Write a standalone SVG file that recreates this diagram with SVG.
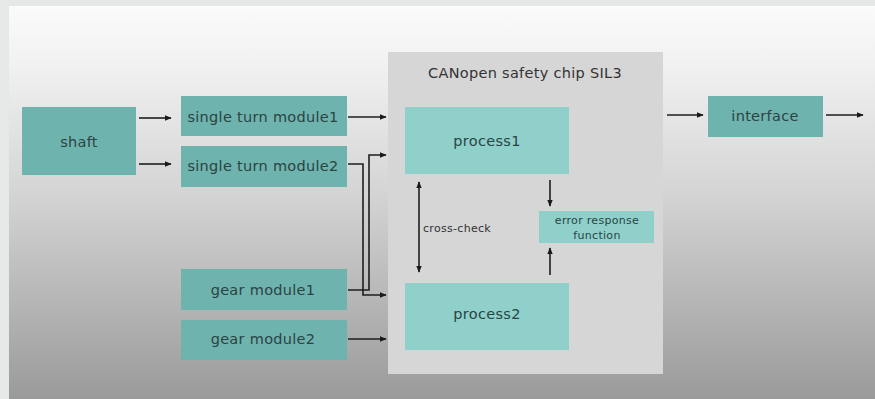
<svg xmlns="http://www.w3.org/2000/svg" width="875" height="399" viewBox="0 0 875 399">
<defs>
<linearGradient id="bg" x1="0" y1="0" x2="0" y2="1">
<stop offset="0" stop-color="#fbfbfb"/>
<stop offset="0.15" stop-color="#f1f1f1"/>
<stop offset="0.5" stop-color="#d2d2d2"/>
<stop offset="1" stop-color="#9a9a9a"/>
</linearGradient>
<marker id="ah" viewBox="0 0 10 10" refX="9" refY="5" markerWidth="7" markerHeight="7" markerUnits="userSpaceOnUse" orient="auto-start-reverse">
<path d="M0,1 L10,5 L0,9 z" fill="#1a1a1a"/>
</marker>
<style>
.dark{fill:#6fb3ae}
.light{fill:#8fd0cb}
.t{font-family:"DejaVu Sans","Open Sans",sans-serif;font-size:14.5px;letter-spacing:0.3px;fill:#2a4443;text-anchor:middle}
.s{font-family:"DejaVu Sans","Open Sans",sans-serif;font-size:11px;letter-spacing:0.3px;fill:#2a4443;text-anchor:middle}
.c{fill:none;stroke:#1e1e1e;stroke-width:1.6}
</style>
</defs>
<rect width="875" height="399" fill="#e6e8e8"/>
<rect x="9" y="6" width="866" height="393" fill="url(#bg)"/>
<g id="chip">
<rect x="388" y="52" width="275" height="322" fill="#d6d6d6"/>
<text x="525" y="78" class="t" style="fill:#333">CANopen safety chip SIL3</text>
</g>
<g id="shaft"><rect x="22" y="107" width="114" height="68" class="dark"/><text x="79" y="147" class="t">shaft</text></g>
<g id="stm1"><rect x="181" y="96" width="166" height="40" class="dark"/><text x="263" y="122" class="t">single turn module1</text></g>
<g id="stm2"><rect x="181" y="146" width="166" height="41" class="dark"/><text x="263" y="171" class="t">single turn module2</text></g>
<g id="gm1"><rect x="181" y="269" width="166" height="41" class="dark"/><text x="263" y="295" class="t">gear module1</text></g>
<g id="gm2"><rect x="181" y="320" width="166" height="40" class="dark"/><text x="263" y="344" class="t">gear module2</text></g>
<g id="p1"><rect x="405" y="107" width="164" height="67" class="light"/><text x="487" y="146" class="t">process1</text></g>
<g id="p2"><rect x="405" y="283" width="164" height="67" class="light"/><text x="487" y="319" class="t">process2</text></g>
<g id="erf"><rect x="539" y="211" width="115" height="32" class="light"/><text x="597" y="224" class="s">error response</text><text x="597" y="239" class="s">function</text></g>
<g id="iface"><rect x="708" y="96" width="115" height="41" class="dark"/><text x="765" y="121" class="t">interface</text></g>
<text x="423" y="232" class="s" style="text-anchor:start;fill:#333">cross-check</text>
<g id="connectors">
<line x1="139" y1="118" x2="171" y2="118" class="c" marker-end="url(#ah)"/>
<line x1="139" y1="164" x2="171" y2="164" class="c" marker-end="url(#ah)"/>
<line x1="348" y1="117" x2="386" y2="117" class="c" marker-end="url(#ah)"/>
<polyline points="348,164 363,164 363,295 386,295" class="c" marker-end="url(#ah)"/>
<polyline points="348,290 369,290 369,155 386,155" class="c" marker-end="url(#ah)"/>
<line x1="348" y1="339" x2="386" y2="339" class="c" marker-end="url(#ah)"/>
<line x1="419" y1="182" x2="419" y2="272" class="c" marker-start="url(#ah)" marker-end="url(#ah)"/>
<line x1="550" y1="180" x2="550" y2="206" class="c" marker-end="url(#ah)"/>
<line x1="550" y1="275" x2="550" y2="248" class="c" marker-end="url(#ah)"/>
<line x1="667" y1="115" x2="703" y2="115" class="c" marker-end="url(#ah)"/>
<line x1="826" y1="115" x2="863" y2="115" class="c" marker-end="url(#ah)"/>
</g>
</svg>
